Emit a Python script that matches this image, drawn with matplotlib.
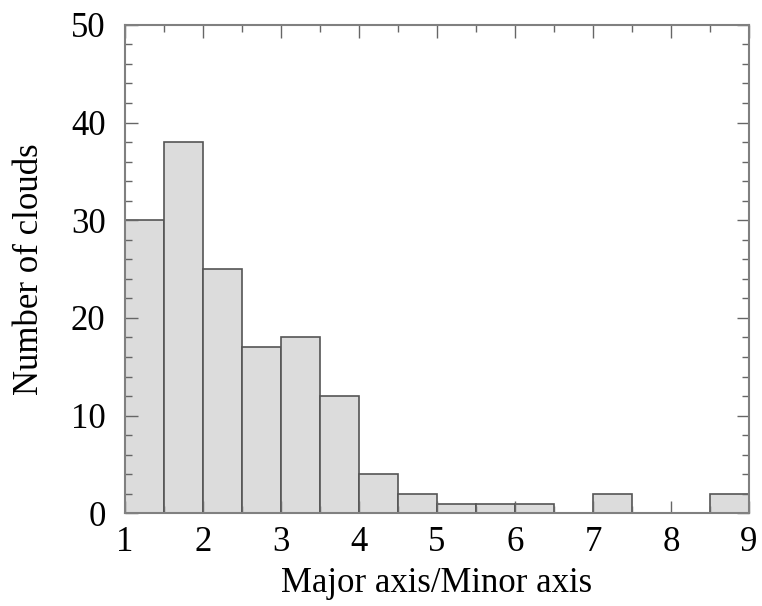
import matplotlib

matplotlib.use("Agg")
import matplotlib.pyplot as plt
from matplotlib.ticker import MultipleLocator

# Histogram of cloud elongation (major/minor axis ratio), bin width 0.5
bin_edges = [1.0, 1.5, 2.0, 2.5, 3.0, 3.5, 4.0, 4.5, 5.0, 5.5, 6.0, 6.5, 7.0, 7.5, 8.0, 8.5, 9.0]
counts = [30, 38, 25, 17, 18, 12, 4, 2, 1, 1, 1, 0, 2, 0, 0, 2]

plt.rcParams["font.family"] = ["Liberation Serif", "DejaVu Serif"]

fig = plt.figure(figsize=(7.62, 6.06), dpi=100)
ax = fig.add_axes([0.164, 0.153, 0.819, 0.806])

lefts = bin_edges[:-1]
widths = [b - a for a, b in zip(bin_edges[:-1], bin_edges[1:])]
ax.bar(lefts, counts, width=widths, align="edge",
       color="#dcdcdc", edgecolor="#555555", linewidth=1.2)

ax.set_xlim(1, 9)
ax.set_ylim(0, 50)
ax.xaxis.set_major_locator(MultipleLocator(1))
ax.xaxis.set_minor_locator(MultipleLocator(0.5))
ax.yaxis.set_major_locator(MultipleLocator(10))
ax.yaxis.set_minor_locator(MultipleLocator(2))

ax.tick_params(which="both", direction="in", top=True, right=True,
               color="#666666", labelsize=25)
ax.tick_params(axis="x", pad=9)
ax.tick_params(axis="y", pad=14)
ax.tick_params(which="major", length=9, width=1)
ax.tick_params(which="minor", length=5, width=1)

for s in ax.spines.values():
    s.set_color("#808080")
    s.set_linewidth(1.5)

ax.set_xlabel("Major axis/Minor axis", fontsize=25, labelpad=6)
ax.set_ylabel("Number of clouds", fontsize=25, labelpad=18)

fig.savefig("out.png", dpi=100)
